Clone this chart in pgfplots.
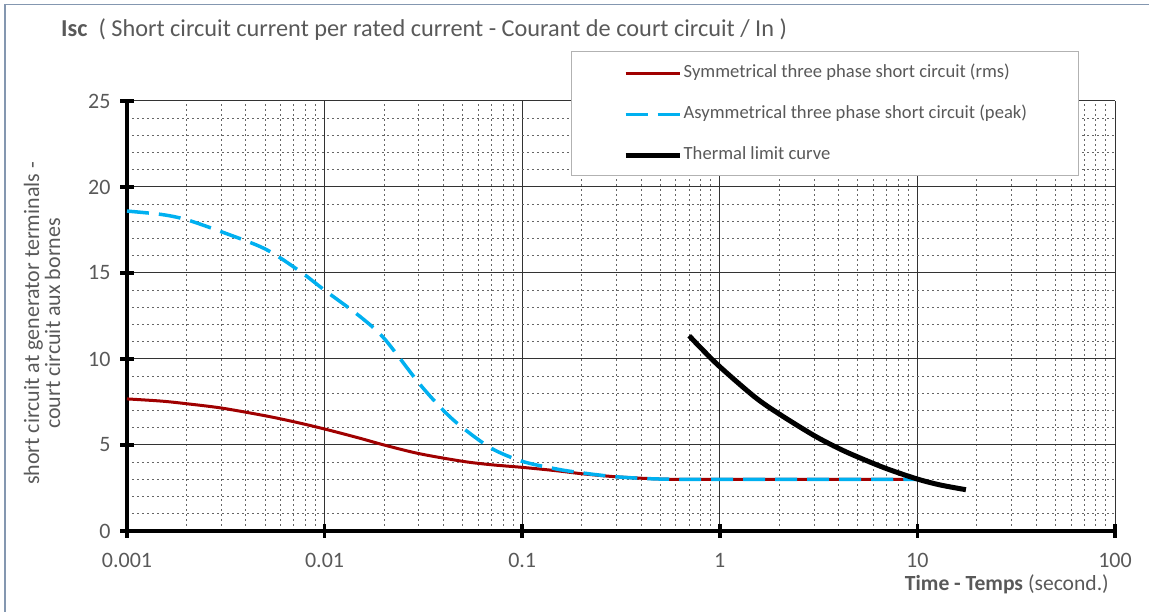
\documentclass[border=0pt]{standalone}
\usepackage{fontspec}
\setmainfont{Carlito}
\usepackage{pgfplots}
\pgfplotsset{compat=1.18}
\definecolor{txt}{HTML}{595959}
\definecolor{redc}{RGB}{160,0,0}
\definecolor{bluec}{HTML}{00B0F0}
\definecolor{framec}{HTML}{8497B0}
\begin{document}
\begin{tikzpicture}
\useasboundingbox (-127pt,-81pt) rectangle (1022pt,531pt);
\draw[framec, line width=1.2pt] (-122pt,-81pt) -- (-122pt,526.5pt) -- (1022pt,526.5pt);
\begin{axis}[name=ax, at={(0pt,0pt)}, anchor=south west,
  scale only axis, width=988pt, height=430pt,
  xmode=log, log basis x=10,
  xmin=0.001, xmax=100, ymin=0, ymax=25,
  xtick={0.001,0.01,0.1,1,10,100},
  xticklabels={0.001,0.01,0.1,1,10,100},
  minor xtick={0.002,0.003,0.004,0.005,0.006,0.007,0.008,0.009,
    0.02,0.03,0.04,0.05,0.06,0.07,0.08,0.09,
    0.2,0.3,0.4,0.5,0.6,0.7,0.8,0.9,
    2,3,4,5,6,7,8,9,20,30,40,50,60,70,80,90},
  ytick={0,5,10,15,20,25},
  minor ytick={1,2,3,4,6,7,8,9,11,12,13,14,16,17,18,19,21,22,23,24},
  grid=both,
  major grid style={draw=black!80, line width=1pt},
  minor grid style={draw=black!60, line width=1pt, dash pattern=on 2pt off 3pt},
  axis x line*=bottom, axis y line*=left,
  axis line style={line width=4pt, -},
  tick align=center, major tick length=14pt, minor tick length=0pt,
  major tick style={line width=3.5pt, black},
  /pgf/number format/assume math mode=true,
  ticklabel style={font=\fontsize{22}{26}\selectfont, text=txt},
  xticklabel style={yshift=-12pt},
  yticklabel style={xshift=-6pt},
  legend style={at={(axis description cs:0.50202,1.08535)}, anchor=north west,
    draw=none, fill=none,
    font=\fontsize{18.6}{22}\selectfont, text=txt,
    inner xsep=0pt, inner ysep=0pt, row sep=23pt, column sep=0pt,
    nodes={inner xsep=1.5pt, inner ysep=0pt, text height=13pt, text depth=5pt, anchor=west}},
  legend cell align=left,
  legend image code/.code={\draw[#1] (0pt,0pt) -- (54pt,0pt);},
  clip=false,
]
\draw[draw=black!30, line width=1pt, fill=white]
  ([xshift=445pt,yshift=355.3pt]axis description cs:0,0) rectangle
  ([xshift=951pt,yshift=479.3pt]axis description cs:0,0);
\addplot[redc, line width=3pt, smooth] coordinates {
 (0.001,7.68)(0.0015,7.55)(0.002,7.4)(0.003,7.15)(0.005,6.7)(0.007,6.35)
 (0.01,5.93)(0.015,5.4)(0.02,5.0)(0.03,4.5)(0.05,4.05)(0.07,3.85)(0.1,3.7)
 (0.15,3.5)(0.2,3.33)(0.3,3.15)(0.5,3.02)(0.7,3.0)(1,3.0)(2,3.0)(5,3.0)(10,3.0)};
\addlegendentry{Symmetrical three phase short circuit (rms)}
\addplot[bluec, line width=3.5pt, smooth, dash pattern=on 22pt off 10pt] coordinates {
 (0.001,18.6)(0.0015,18.4)(0.002,18.1)(0.003,17.4)(0.005,16.4)(0.0075,15.1)
 (0.01,14.0)(0.015,12.5)(0.02,11.2)(0.03,8.6)(0.04,7.0)(0.05,6.0)(0.07,4.8)
 (0.1,4.05)(0.15,3.6)(0.2,3.38)(0.3,3.15)(0.5,3.02)(1,3.0)(10,3.0)};
\addlegendentry{Asymmetrical three phase short circuit (peak)}
\addplot[black, line width=5pt, smooth] coordinates {
 (0.7,11.35)(0.8,10.65)(1,9.55)(1.5,7.8)(2,6.8)(3,5.55)(4,4.8)(5,4.3)
 (7,3.62)(10,3.02)(13,2.68)(17.6,2.4)};
\addlegendentry{Thermal limit curve}
\end{axis}
\node[anchor=base west, text=txt, font=\fontsize{24.3}{28}\selectfont, inner sep=0pt] at (-66pt,494.3pt)
  {\textbf{Isc}\ \ ( Short circuit current per rated current - Courant de court circuit / In )};
\node[anchor=base east, text=txt, font=\fontsize{21.6}{26}\selectfont, inner sep=0pt] at (982pt,-60pt)
  {\textbf{Time - Temps} (second.)};
\node[rotate=90, align=center, text=txt, font=\fontsize{22}{21}\selectfont, inner sep=0pt] at (-85pt,207.5pt)
  {short circuit at generator terminals -\\court circuit aux bornes};
\end{tikzpicture}
\end{document}
